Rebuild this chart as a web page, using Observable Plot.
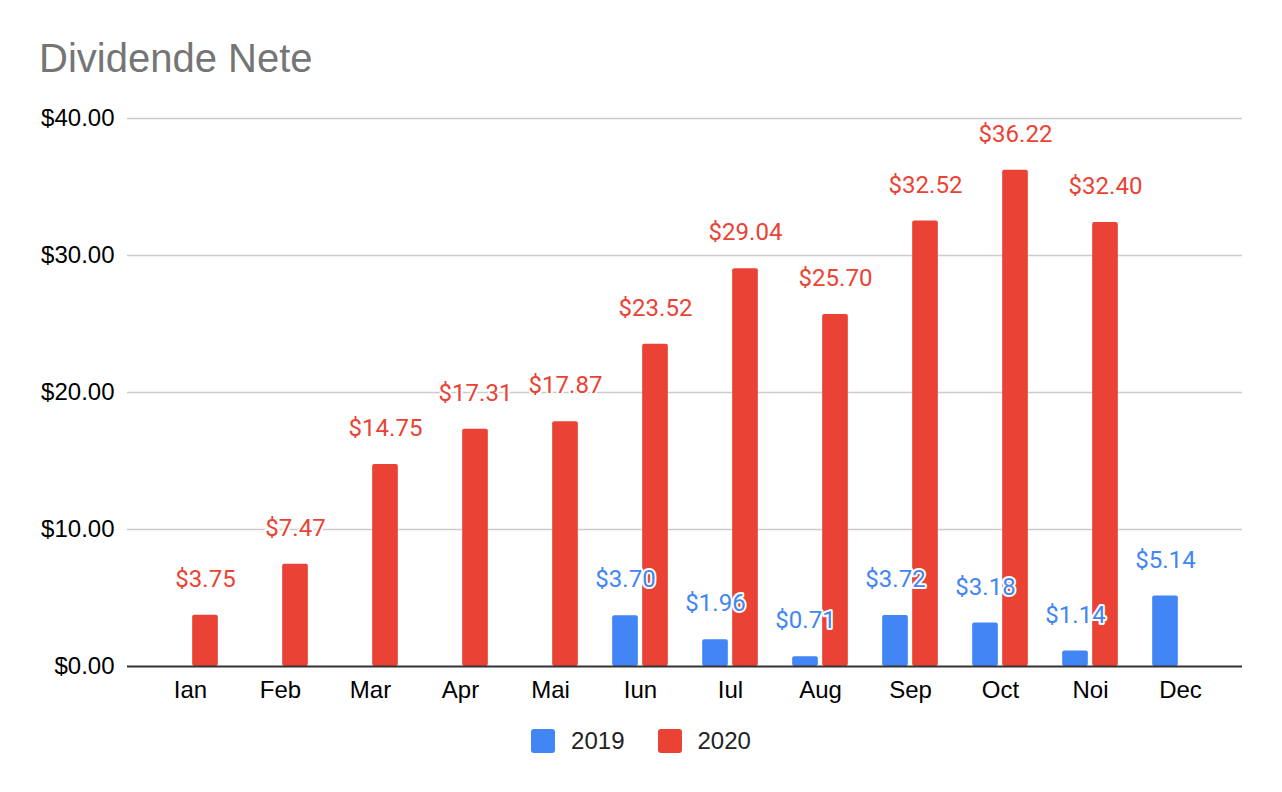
<!DOCTYPE html>
<html>
<head>
<meta charset="utf-8">
<script src="https://cdn.jsdelivr.net/npm/d3@7"></script>
<script src="https://cdn.jsdelivr.net/npm/@observablehq/plot@0.6"></script>
<style>
  html, body { margin: 0; padding: 0; background: #fff; }
  #title {
    height: 90px; box-sizing: border-box; padding: 38px 0 0 39px;
    font-family: "Liberation Sans", Arial, sans-serif; font-size: 40px; line-height: 40px;
    color: #757575;
  }
  #legend { height: 40px; padding-top: 7px; display: flex; justify-content: center; align-items: center; }
</style>
</head>
<body>
<div id="title">Dividende Nete</div>
<div id="chart"></div>
<div id="legend"></div>
<script>
const months = ["Ian","Feb","Mar","Apr","Mai","Iun","Iul","Aug","Sep","Oct","Noi","Dec"];
const series = ["2019", "2020"];
const colors = ["#4285F4", "#EA4335"];
const values2019 = [null, null, null, null, null, 3.70, 1.96, 0.71, 3.72, 3.18, 1.14, 5.14];
const values2020 = [3.75, 7.47, 14.75, 17.31, 17.87, 23.52, 29.04, 25.70, 32.52, 36.22, 32.40, null];
const yTicks = [0, 10, 20, 30, 40];

const fmt = v => "$" + v.toFixed(2);
const toRows = vals => months.map((m, i) => ({month: m, value: vals[i]})).filter(d => d.value != null);
const d2019 = toRows(values2019);
const d2020 = toRows(values2020);

const W = 1282, ML = 127, MR = 40, IL = 16, IR = 15;
const step = (W - ML - MR - IL - IR) / months.length;
const barW = 26, off = 15;
const innerL = (step - barW) / 2 - off;   // inset on the near side
const innerR = (step - barW) / 2 + off;   // inset on the far side

const labelOpts = (fill, dx) => ({
  x: "month", y: "value", text: d => fmt(d.value), dx, dy: -36,
  fill, stroke: "white", strokeWidth: 4, strokeLinejoin: "round", paintOrder: "stroke",
  fontFamily: "Roboto", fontSize: 24
});

const chart = Plot.plot({
  width: W, height: 630,
  marginLeft: ML, marginRight: MR, marginTop: 28, marginBottom: 54,
  style: {fontFamily: "'Liberation Sans', Arial, sans-serif", fontSize: "24px", color: "#000", background: "#fff"},
  x: {domain: months, padding: 0, insetLeft: IL, insetRight: IR, tickSize: 0, tickPadding: 14, label: null},
  y: {domain: [0, 40], ticks: yTicks, tickFormat: fmt, tickSize: 0, tickPadding: 13, label: null},
  marks: [
    Plot.ruleY(yTicks.filter(t => t > 0), {stroke: "#cccccc", strokeWidth: 1.5}),
    Plot.barY(d2019, {x: "month", y: "value", fill: colors[0], insetLeft: innerL, insetRight: innerR, rx: 2}),
    Plot.barY(d2020, {x: "month", y: "value", fill: colors[1], insetLeft: innerR, insetRight: innerL, rx: 2}),
    Plot.ruleY([0], {stroke: "#333333", strokeWidth: 2}),
    Plot.text(d2020, labelOpts(colors[1], off)),
    Plot.text(d2019, labelOpts(colors[0], -off))
  ]
});
document.getElementById("chart").appendChild(chart);

const legend = Plot.legend({
  color: {type: "ordinal", domain: series, range: colors},
  swatchSize: 24,
  style: {fontFamily: "'Liberation Sans', Arial, sans-serif", fontSize: "24px", color: "#222"}
});
legend.style.marginLeft = "0px";
legend.style.minHeight = "0px";
const spans = legend.querySelectorAll("span");
spans.forEach((s, i) => {
  s.style.marginRight = i === spans.length - 1 ? "0px" : "33px";
  const svg = s.querySelector("svg");
  if (svg) {
    svg.style.marginRight = "16px";
    svg.querySelectorAll("rect").forEach(r => { r.setAttribute("rx", 3); });
  }
});
document.getElementById("legend").appendChild(legend);
</script>
</body>
</html>
